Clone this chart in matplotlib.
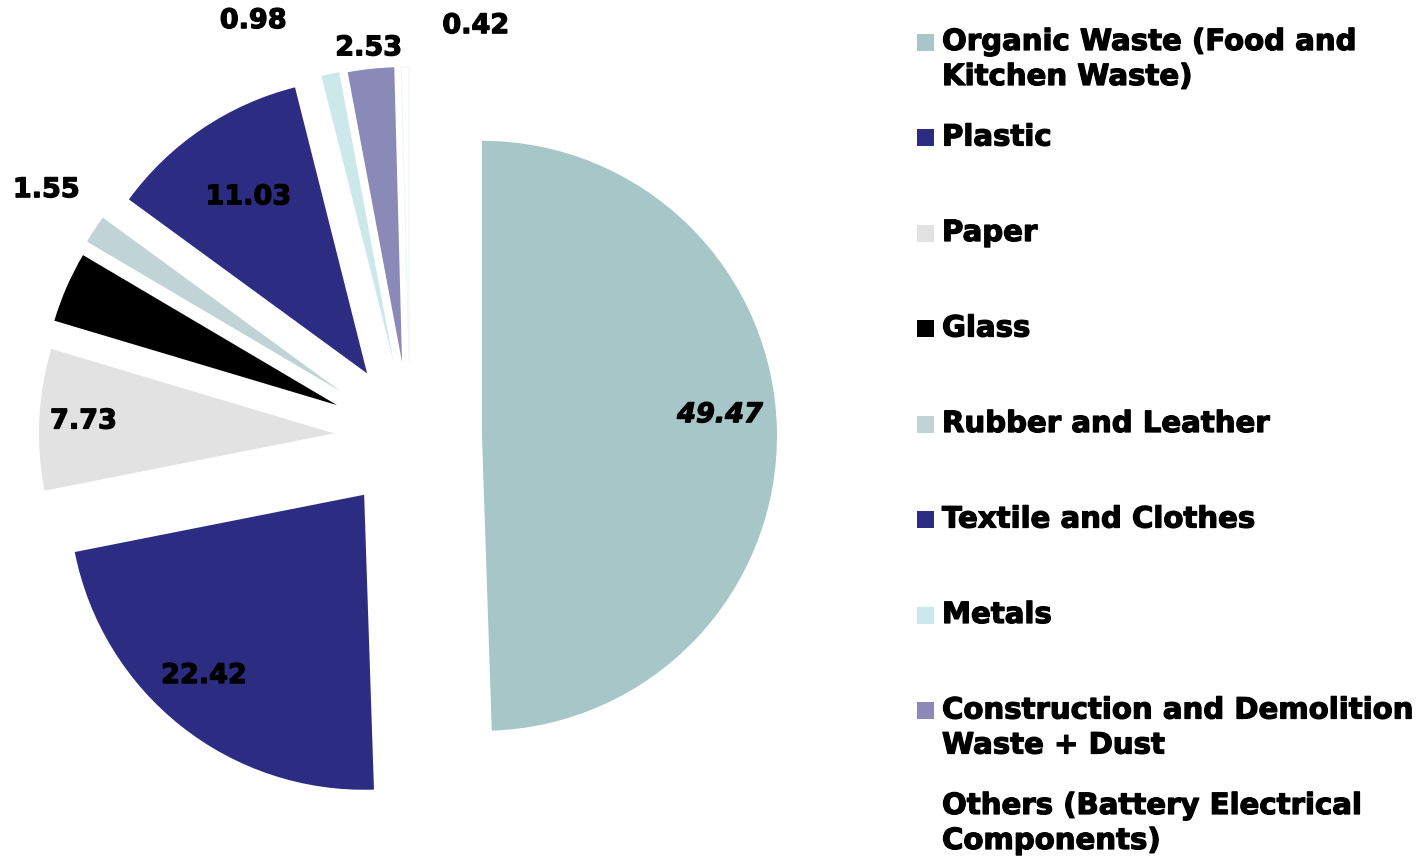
import numpy as np
import matplotlib.pyplot as plt
import matplotlib.patheffects as pe
from matplotlib.patches import Rectangle

categories = ['Organic Waste (Food and\nKitchen Waste)', 'Plastic', 'Paper', 'Glass',
              'Rubber and Leather', 'Textile and Clothes', 'Metals',
              'Construction and Demolition\nWaste + Dust',
              'Others (Battery Electrical\nComponents)']
values = [49.47, 22.42, 7.73, 3.87, 1.55, 11.03, 0.98, 2.53, 0.42]
labels = ['49.47', '22.42', '7.73', '', '1.55', '11.03', '0.98', '2.53', '0.42']
colors = ['#A7C6C8', '#2D2C83', '#E2E2E2', '#000000', '#C0D4D6',
          '#2D2C83', '#CDE8EA', '#8A89B8', '#FFFFFF']
explode = [0.244, 0.25, 0.258, 0.27, 0.28, 0.26, 0.26, 0.255, 0.255]
# label distance (in radii from wedge tip) and angle shift (deg)
lab_dist = [0.81, 0.82, 0.85, 0.6, 1.21, 0.72, 1.25, 1.07, 1.16]
lab_shift = [4, -3, 0, 0, -1, 0, 10, 0, -12]

fig = plt.figure(figsize=(14.2, 8.6), dpi=100)
ax = fig.add_axes([0, 0, 1, 1])

# heavier glyphs, closer to the Verdana Bold look of the original
heavy = [pe.withStroke(linewidth=0.9, foreground='black')]

cx, cy, r = 410, 423, 295
wedges, _ = ax.pie(values, colors=colors, explode=[e * r for e in explode],
                   startangle=90, counterclock=False, center=(cx, cy), radius=r,
                   wedgeprops=dict(linewidth=0))
wedges[-1].set_edgecolor('#F2F6F6')
wedges[-1].set_linewidth(0.8)

for w, lab, d, s in zip(wedges, labels, lab_dist, lab_shift):
    if not lab:
        continue
    mid = np.deg2rad((w.theta1 + w.theta2) / 2 + s)
    tx, ty = w.center
    style = 'italic' if lab == '49.47' else 'normal'
    ax.text(tx + d * r * np.cos(mid), ty + d * r * np.sin(mid), lab,
            ha='center', va='center', fontsize=19.5, fontweight='bold',
            fontstyle=style, color='black', path_effects=heavy)

# legend, drawn by hand so the marker sits on the first line
row0, step, line_gap = 860 - 42, 95.5, 35
for i, (cat, col) in enumerate(zip(categories, colors)):
    y = row0 - i * step
    ax.add_patch(Rectangle((917, y - 8.5), 17, 17, facecolor=col, edgecolor='none'))
    for k, line in enumerate(cat.split('\n')):
        ax.text(942, y - k * line_gap, line, ha='left', va='center',
                fontsize=21, fontweight='bold', color='black', path_effects=heavy)

ax.set_xlim(0, 1420)
ax.set_ylim(0, 860)
ax.set_aspect('equal')
ax.axis('off')

fig.savefig('out.png', dpi=100, facecolor='white')
